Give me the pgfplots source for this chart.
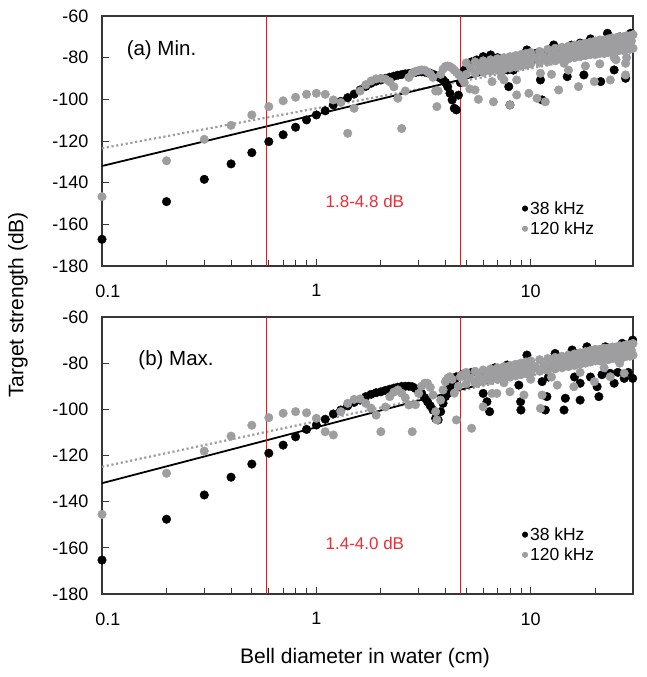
\documentclass[border=0pt]{standalone}
\usepackage{pgfplots}
\pgfplotsset{compat=1.18}
\usepackage{fontspec}
\setmainfont{Liberation Sans}
\definecolor{dotgray}{RGB}{158,158,160}
\definecolor{framegray}{RGB}{55,55,55}
\definecolor{redline}{RGB}{245,20,20}
\definecolor{redtext}{RGB}{235,45,55}

\pgfplotsset{mypanel/.style={
  scale only axis, width=531pt,
  xmin=0.1, xmax=30, ymin=-180, ymax=-60,
  xtick={0.1,1,10}, xticklabels={\hspace*{12pt}0.1,1,10},
  minor xtick={0.2,0.3,0.4,0.5,0.6,0.7,0.8,0.9,2,3,4,5,6,7,8,9,20},
  ytick={-180,-160,-140,-120,-100,-80,-60},
  yticklabels={-180,-160,-140,-120,-100,-80,-60},
  tick align=inside, xtick pos=left, ytick pos=left,
  major tick length=7pt, minor tick length=6pt,
  axis line style={framegray, line width=1.1pt},
  tick style={framegray, line width=0.8pt},
  tick label style={font=\fontsize{18}{20}\selectfont},
  xticklabel style={yshift=-15pt},
  yticklabel style={xshift=-10pt},
  /pgf/number format/assume math mode=true,
  clip=false,
  unbounded coords=jump,
  legend style={draw=none, fill=none, font=\fontsize{17.5}{20}\selectfont, row sep=2pt},
  legend cell align=left,
},
blk/.style={only marks, mark=*, mark size=4.3pt, color=black, mark options={draw=none, fill=black}},
gry/.style={only marks, mark=*, mark size=4.3pt, color=dotgray, mark options={draw=none, fill=dotgray}},
vred/.style={forget plot, no marks, color=redline, draw=redline, line width=1.1pt},
}

\begin{document}
\begin{tikzpicture}
\useasboundingbox (0pt,0pt) rectangle (647pt,677pt);

% ---------------- (a) Min. ----------------
\begin{axis}[xmode=log, mypanel, height=250pt, at={(102pt,411pt)}, anchor=south west,
  legend style={at={(0.785,0.275)}, anchor=north west}]
\addplot[blk, legend image code/.code={\fill[black] (0pt,0pt) circle (2.8pt);}] coordinates {
(0.1,-167.2)(0.2,-149.1)(0.3,-138.4)(0.4,-131.0)(0.5,-125.6)(0.6,-120.3)(0.7,-117.0)(0.8,-113.4)(0.9,-109.9)(1.0,-107.5)
(1.1,-105.5)(1.2,-102.7)(1.3,-101.0)(1.4,-99.2)(1.5,-97.5)(1.6,-95.5)(1.7,-93.8)(1.8,-92.3)(1.9,-91.3)(2.0,-90.7)
(2.1,-90.0)(2.2,-89.4)(2.3,-88.9)(2.4,-88.4)(2.5,-88.1)(2.6,-87.8)(2.7,-87.6)(2.8,-87.4)(2.9,-87.1)(3.0,-86.8)
(3.1,-86.8)(3.2,-86.9)(3.3,-87.2)(3.4,-87.5)(3.5,-88.0)(3.6,-88.5)(3.7,-89.2)(3.8,-89.9)(3.9,-90.7)(4.0,-91.8)
(4.1,-94.0)(4.2,-97.1)(4.3,-100.3)(4.4,-104.3)(4.5,-105.1)(4.6,-98.0)(4.7,-92.0)(4.8,-88.0)(4.9,-86.0)(5.0,-85.0)
(5.3,-82.0)(5.6,-81.1)(6.0,-79.5)(6.5,-78.7)(7.0,-80.0)(7.5,-82.0)(7.8,-85.9)(7.9,-93.9)(8.0,-102.7)(8.3,-86.0)
(9.0,-80.0)(9.6,-76.3)(10.5,-78.0)(11.1,-90.7)(11.3,-100.3)(12.0,-77.0)(12.8,-73.9)(13.5,-76.0)(14.8,-89.1)(15.5,-74.0)
(17.0,-73.0)(17.7,-88.3)(19.0,-71.0)(21.2,-91.5)(22.8,-68.3)(24.5,-85.9)(26.0,-70.0)(27.7,-89.9)(29.3,-68.3)
};
\addlegendentry{38 kHz}
\addplot[gry, legend image code/.code={\fill[dotgray] (0pt,0pt) circle (2.8pt);}] coordinates {
(0.1,-146.7)(0.2,-129.5)(0.3,-119.2)(0.4,-112.5)(0.5,-107.5)(0.6,-103.5)(0.7,-100.7)(0.8,-99.0)(0.9,-97.6)(1.0,-97.1)
(1.1,-97.6)(1.2,-100.3)(1.3,-101.5)(1.4,-116.3)(1.5,-104.3)(1.6,-96.0)(1.7,-93.0)(1.8,-91.2)(1.9,-90.2)(2.0,-89.9)
(2.1,-90.3)(2.2,-91.5)(2.3,-94.0)(2.4,-99.5)(2.5,-114.0)(2.6,-96.0)(2.7,-89.5)(2.8,-87.5)(2.9,-86.6)(3.0,-86.2)
(3.1,-85.9)(3.2,-86.0)(3.3,-86.8)(3.4,-87.8)(3.5,-89.5)(3.6,-96.0)(3.65,-103.5)(3.7,-96.0)(3.8,-88.0)(3.9,-85.5)
(4.0,-84.2)(4.1,-84.0)(4.2,-84.3)(4.3,-85.0)(4.4,-86.0)(4.5,-87.0)(4.6,-88.0)(4.7,-89.1)(4.8,-90.5)(4.9,-92.0)
(5.2,-95.0)(5.5,-95.5)(5.7,-100.0)(6.6,-91.5)(6.7,-101.2)(7.3,-89.0)(7.5,-90.7)(8.0,-102.7)(8.6,-97.9)(8.6,-90.7)
(9.8,-97.1)(10.7,-99.5)(11.1,-87.5)(11.7,-101.2)(12.5,-88.0)(13.5,-95.5)(14.3,-82.7)(15.0,-86.0)(16.7,-93.9)(18.0,-84.0)
(19.8,-91.5)(21.0,-83.0)(23.5,-90.7)(24.5,-80.0)(25.0,-81.0)(27.7,-88.3)(27.7,-82.7)(28.0,-80.0)
(5,-82.5)(5.5,-82)(6,-81.5)(6.5,-81)(7,-80.5)(7.5,-80)(8,-79.5)(8.5,-79)(9,-78.5)(9.5,-78)(10,-77.5)
(11,-77)(12,-76)(13,-75.5)(14,-75)(15,-74.5)(16,-74)(17,-73.5)(18,-73)(19,-72.5)(20,-72)
(21,-71.5)(22,-71.5)(23,-71)(24,-70.5)(25,-70.5)(26,-70)(27,-70)(28,-69.5)(29,-69.5)(30,-69)
(5.25,-85)(5.75,-84.5)(6.25,-84)(6.75,-83.5)(7.25,-83)(7.75,-82.5)(8.25,-82)(8.75,-81.5)(9.25,-81)(9.75,-80.5)
(10.5,-80)(11.5,-79.5)(12.5,-79)(13.5,-78.5)(14.5,-78)(15.5,-77.5)(16.5,-77)(17.5,-76.5)(18.5,-76)(19.5,-75.5)
(20.5,-75)(21.5,-74.5)(22.5,-74.5)(23.5,-74)(24.5,-73.5)(25.5,-73.5)(26.5,-73)(27.5,-73)(28.5,-72.5)(29.5,-72)
(5,-88)(5.5,-87.5)(6,-87)(6.5,-86.5)(7,-86)(7.5,-85.5)(8,-85)(8.5,-84.5)(9,-84)(9.5,-83.5)(10,-83)
(11,-82.5)(12,-82)(13,-81.5)(14,-81)(15,-80.5)(16,-80)(17,-79.5)(18,-79)(19,-78.5)(20,-78.5)
(21,-78)(22,-78)(23,-77.5)(24,-77)(25,-77)(26,-76.5)(27,-76.5)(28,-76)(29,-76)(30,-75.5)
};
\addlegendentry{120 kHz}
\addplot[forget plot, no marks, color=dotgray, line width=2.2pt, dash pattern=on 2.2pt off 2.6pt] coordinates {(0.1,-123.5)(30,-76.0)};
\addplot[forget plot, no marks, color=black, line width=1.8pt] coordinates {(0.1,-132.0)(30,-70.7)};
\addplot[vred] coordinates {(0.585,-180)(0.585,-60)(1,nan)(4.69,-180)(4.69,-60)};
\node[anchor=west, font=\fontsize{20.5}{22}\selectfont] at (rel axis cs:0.04,0.864) {(a) Min.};
\node[font=\fontsize{17}{19}\selectfont, text=redtext] at (rel axis cs:0.495,0.257) {1.8-4.8 dB};
\end{axis}

% ---------------- (b) Max. ----------------
\begin{axis}[xmode=log, mypanel, height=277pt, at={(102pt,83pt)}, anchor=south west,
  legend style={at={(0.785,0.255)}, anchor=north west}]
\addplot[blk, legend image code/.code={\fill[black] (0pt,0pt) circle (2.8pt);}] coordinates {
(0.1,-165.3)(0.2,-147.6)(0.3,-137.1)(0.4,-129.4)(0.5,-123.7)(0.6,-119.0)(0.7,-115.5)(0.8,-111.9)(0.9,-108.7)(1.0,-106.8)
(1.1,-104.3)(1.2,-102.0)(1.3,-100.3)(1.4,-98.5)(1.5,-97.0)(1.6,-96.0)(1.7,-94.5)(1.8,-93.5)(1.9,-92.8)(2.0,-92.4)
(2.1,-91.8)(2.2,-91.3)(2.3,-90.8)(2.4,-90.4)(2.5,-90.1)(2.6,-90.0)(2.7,-90.0)(2.8,-90.2)(2.9,-91.0)(3.0,-92.0)
(3.1,-93.1)(3.2,-95.0)(3.3,-96.7)(3.4,-98.5)(3.5,-100.3)(3.6,-103.9)(3.7,-104.6)(3.8,-101.0)(3.9,-97.4)(4.0,-94.5)
(4.1,-93.1)(4.2,-90.2)(4.3,-89.0)(4.4,-88.0)(4.5,-85.9)(4.8,-84.8)(5.0,-84.4)(5.3,-84.0)(5.8,-86.0)(6.0,-93.1)
(6.25,-96.7)(6.43,-101.0)(6.8,-82.0)(7.77,-80.8)(8.8,-89.5)(8.97,-96.7)(9.0,-100.3)(9.6,-76.5)(11.3,-88.0)(11.9,-94.5)
(11.7,-100.3)(12.1,-86.0)(13.0,-75.8)(14.5,-95.2)(14.3,-100.3)(15.6,-74.3)(16.0,-86.0)(17.0,-96.0)(17.0,-88.7)(18.3,-72.9)
(19.0,-86.0)(20.4,-90.2)(20.8,-94.5)(21.5,-85.0)(22.3,-72.9)(23.5,-84.4)(24.5,-88.7)(25.5,-84.0)(26.7,-71.4)(27.3,-86.6)
(28.5,-84.0)(29.9,-70.0)(29.9,-86.6)
};
\addlegendentry{38 kHz}
\addplot[gry, legend image code/.code={\fill[dotgray] (0pt,0pt) circle (2.8pt);}] coordinates {
(0.1,-145.5)(0.2,-127.7)(0.3,-118.1)(0.4,-111.6)(0.5,-106.9)(0.6,-103.6)(0.7,-101.7)(0.8,-101.0)(0.9,-101.5)(1.0,-103.9)
(1.1,-109.7)(1.2,-111.1)(1.3,-101.0)(1.4,-97.4)(1.5,-95.7)(1.6,-95.5)(1.7,-97.4)(1.8,-99.5)(1.9,-102.5)(2.0,-109.7)
(2.1,-99.0)(2.2,-94.5)(2.3,-92.5)(2.4,-91.6)(2.5,-93.0)(2.6,-95.0)(2.7,-98.1)(2.8,-109.7)(2.9,-98.0)(3.0,-93.1)
(3.1,-90.0)(3.2,-88.7)(3.3,-88.7)(3.4,-90.5)(3.5,-93.8)(3.6,-101.0)(3.65,-104.6)(3.8,-96.0)(3.9,-91.6)(4.0,-88.0)
(4.1,-86.5)(4.2,-85.9)(4.3,-87.0)(4.4,-93.0)(4.5,-104.6)(4.6,-90.0)(4.7,-85.9)(4.8,-85.0)(4.9,-85.5)(5.3,-108.2)
(5.6,-88.7)(6.0,-98.9)(6.6,-93.1)(6.95,-93.1)(7.5,-88.5)(8.0,-92.4)(9.3,-93.8)(10.0,-87.0)(11.1,-99.6)(11.3,-93.8)
(12.5,-86.0)(13.3,-89.5)(15.9,-90.2)(17.0,-84.0)(19.8,-88.0)(22.0,-82.0)(23.5,-85.9)(26.0,-80.0)(27.3,-84.4)
(5,-84)(5.5,-83.5)(6,-83)(6.5,-82.5)(7,-82)(7.5,-81.5)(8,-81)(8.5,-80.5)(9,-80)(9.5,-79.5)(10,-79)
(11,-78.5)(12,-78)(13,-77.5)(14,-77)(15,-76.5)(16,-76)(17,-75.5)(18,-75)(19,-74.5)(20,-74)
(21,-74)(22,-73.5)(23,-73.5)(24,-73)(25,-73)(26,-72.5)(27,-72.5)(28,-72)(29,-72)(30,-71.5)
(5.25,-86.5)(5.75,-86)(6.25,-85.5)(6.75,-85)(7.25,-84.5)(7.75,-84)(8.25,-83.5)(8.75,-83)(9.25,-82.5)(9.75,-82)
(10.5,-81.5)(11.5,-81)(12.5,-80.5)(13.5,-80)(14.5,-79.5)(15.5,-79)(16.5,-78.5)(17.5,-78)(18.5,-77.5)(19.5,-77)
(20.5,-76.5)(21.5,-76.5)(22.5,-76)(23.5,-76)(24.5,-75.5)(25.5,-75.5)(26.5,-75)(27.5,-75)(28.5,-74.5)(29.5,-74.5)
(5,-89)(5.5,-88.5)(6,-88)(6.5,-87.5)(7,-87)(7.5,-86.5)(8,-86)(8.5,-85.5)(9,-85)(9.5,-84.5)(10,-84)
(11,-83.5)(12,-83)(13,-82.5)(14,-82)(15,-81.5)(16,-81)(17,-80.5)(18,-80)(19,-79.5)(20,-79)
(21,-79)(22,-78.5)(23,-78.5)(24,-78)(25,-78)(26,-77.5)(27,-77.5)(28,-77)(29,-77)(30,-76.5)
};
\addlegendentry{120 kHz}
\addplot[forget plot, no marks, color=dotgray, line width=2.2pt, dash pattern=on 2.2pt off 2.6pt] coordinates {(0.1,-124.9)(30,-76.0)};
\addplot[forget plot, no marks, color=black, line width=1.8pt] coordinates {(0.1,-132.0)(30,-72.0)};
\addplot[vred] coordinates {(0.585,-180)(0.585,-60)(1,nan)(4.69,-180)(4.69,-60)};
\node[anchor=west, font=\fontsize{20.5}{22}\selectfont] at (rel axis cs:0.062,0.845) {(b) Max.};
\node[font=\fontsize{17}{19}\selectfont, text=redtext] at (rel axis cs:0.495,0.184) {1.4-4.0 dB};
\end{axis}

\node[rotate=90, font=\fontsize{21}{24}\selectfont] at (18pt,372pt) {Target strength (dB)};
\node[font=\fontsize{21}{24}\selectfont] at (365pt,19pt) {Bell diameter in water (cm)};
\end{tikzpicture}
\end{document}
